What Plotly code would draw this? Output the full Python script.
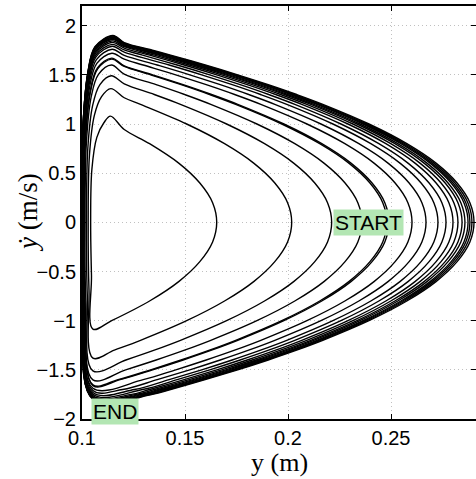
import plotly.graph_objects as go

# one closed loop per hop
apex_y = [0.1654, 0.2018, 0.2212, 0.2359, 0.2480, 0.2490, 0.2602, 0.2670, 0.2728,
          0.2767, 0.2801, 0.2825, 0.2845, 0.2859, 0.2874, 0.2883, 0.2893, 0.2903]
peak_v = [1.08, 1.36, 1.49, 1.60, 1.66, 1.67, 1.72, 1.76, 1.79,
          1.81, 1.83, 1.845, 1.86, 1.87, 1.88, 1.885, 1.895, 1.90]
kink_v = [0.944, 1.267, 1.409, 1.508, 1.585, 1.591, 1.659, 1.698, 1.731,
          1.753, 1.772, 1.786, 1.796, 1.804, 1.812, 1.817, 1.823, 1.828]
touchdown_v = [-1.086, -1.381, -1.510, -1.602, -1.653, -1.660, -1.687, -1.711, -1.731,
               -1.748, -1.762, -1.775, -1.782, -1.788, -1.793, -1.796, -1.798, -1.800]
stance_min_y = [0.1042, 0.1030, 0.1022, 0.1015, 0.1011, 0.1010, 0.1007, 0.1005, 0.1003,
                0.1002, 0.1001, 0.1000, 0.0999, 0.0999, 0.0998, 0.0998, 0.0998, 0.0998]
peak_y = [0.1138, 0.1140, 0.1142, 0.1143, 0.1144, 0.1144, 0.1145, 0.1146, 0.1147,
          0.1147, 0.1148, 0.1148, 0.1149, 0.1149, 0.1150, 0.1150, 0.1150, 0.1150]
touchdown_y = 0.1053
kink_y = 0.1205

# flight part: distance below the apex at each speed
flight_v = [1.85, 1.8, 1.75, 1.7, 1.6, 1.5, 1.4, 1.3, 1.2, 1.0, 0.8, 0.6, 0.4, 0.2, 0.0]
flight_drop = [0.1744, 0.1651, 0.1561, 0.1473, 0.1305, 0.1147, 0.0999, 0.0861, 0.0734,
               0.0510, 0.0326, 0.0183, 0.0082, 0.0020, 0.0]

# stance part: speed as fraction of touchdown/peak speed, y above the lowest point
stance_v_frac = [-0.5, 0.0, 0.5, 0.8, 0.94]
stance_dy = [0.0004, 0.0, 0.0006, 0.0030, 0.0065]

x_tick_vals = [0.1, 0.15, 0.2, 0.25]
x_tick_text = ["0.1", "0.15", "0.2", "0.25"]
y_tick_vals = [-2, -1.5, -1, -0.5, 0, 0.5, 1, 1.5, 2]
y_tick_text = ["\u22122", "\u22121.5", "\u22121", "\u22120.5", "0", "0.5", "1", "1.5", "2"]

fig = go.Figure()

for k in range(len(apex_y)):
    xs = [touchdown_y]
    vs = [touchdown_v[k]]
    for frac, dy in zip(stance_v_frac, stance_dy):
        xs.append(stance_min_y[k] + dy)
        vs.append(frac * (-touchdown_v[k] if frac < 0 else peak_v[k]))
    xs += [peak_y[k], kink_y]
    vs += [peak_v[k], kink_v[k]]
    # going up, then over the apex
    for lv, dr in zip(flight_v, flight_drop):
        if lv < kink_v[k] - 0.04:
            xs.append(apex_y[k] - dr)
            vs.append(lv)
    # coming down
    for lv, dr in zip(flight_v[::-1][1:], flight_drop[::-1][1:]):
        if lv < -touchdown_v[k] and apex_y[k] - dr > touchdown_y + 0.008:
            xs.append(apex_y[k] - dr)
            vs.append(-lv)
    xs.append(touchdown_y)
    vs.append(touchdown_v[k])
    fig.add_trace(go.Scatter(x=xs, y=vs, mode="lines",
                             line=dict(color="black", width=1.4, shape="spline", smoothing=1.0),
                             showlegend=False, hoverinfo="skip"))

# empty trace so the right-hand tick axis is drawn
fig.add_trace(go.Scatter(x=[None], y=[None], yaxis="y2", showlegend=False))

fig.add_annotation(x=0.2391, y=0.0, text="START", showarrow=False,
                   font=dict(family="Liberation Sans", size=21, color="black"),
                   bgcolor="rgb(179,230,179)", borderpad=1)
fig.add_annotation(x=0.1160, y=-1.925, text="END", showarrow=False,
                   font=dict(family="Liberation Sans", size=21, color="black"),
                   bgcolor="rgb(179,230,179)", borderpad=1)

fig.add_annotation(xref="paper", yref="paper", x=0.5, y=-0.106, text="y (m)",
                   xanchor="center", yanchor="middle", showarrow=False,
                   font=dict(family="Liberation Serif", size=26, color="black"))
fig.add_annotation(xref="paper", yref="paper", x=-0.137, y=0.499, text="<i>\u1e8f</i> (m/s)",
                   xanchor="center", yanchor="middle", textangle=-90, showarrow=False,
                   font=dict(family="Liberation Serif", size=27, color="black"))

tick_font = dict(family="Liberation Sans", size=20, color="black")
fig.update_xaxes(range=[0.1, 0.29126], tickvals=x_tick_vals, ticktext=x_tick_text,
                 ticks="inside", ticklen=5, tickwidth=1, tickcolor="black",
                 showline=True, linewidth=2, linecolor="black", mirror="ticks",
                 showgrid=True, gridcolor="#c0c0c0", griddash="1px,3px", gridwidth=1,
                 zeroline=False, tickfont=tick_font, automargin=False)
fig.update_yaxes(range=[-2, 2.2], tickvals=y_tick_vals, ticktext=y_tick_text,
                 ticks="inside", ticklen=5, tickwidth=1, tickcolor="black",
                 showline=True, linewidth=2, linecolor="black",
                 showgrid=True, gridcolor="#c0c0c0", griddash="1px,3px", gridwidth=1,
                 zeroline=False, tickfont=tick_font, automargin=False)
fig.update_layout(
    yaxis2=dict(overlaying="y", side="right", range=[-2, 2.2], tickvals=y_tick_vals,
                ticks="inside", ticklen=5, tickwidth=1, tickcolor="black",
                showticklabels=False, showgrid=False, zeroline=False, showline=False,
                automargin=False),
    width=476, height=479,
    margin=dict(l=82, r=0, t=6, b=60, autoexpand=False),
    plot_bgcolor="white", paper_bgcolor="white",
)

# the page's default body margin would shift the figure by 8px
fig.write_html("out.html", config={"displayModeBar": False},
               post_script="document.body.style.margin='0';")
